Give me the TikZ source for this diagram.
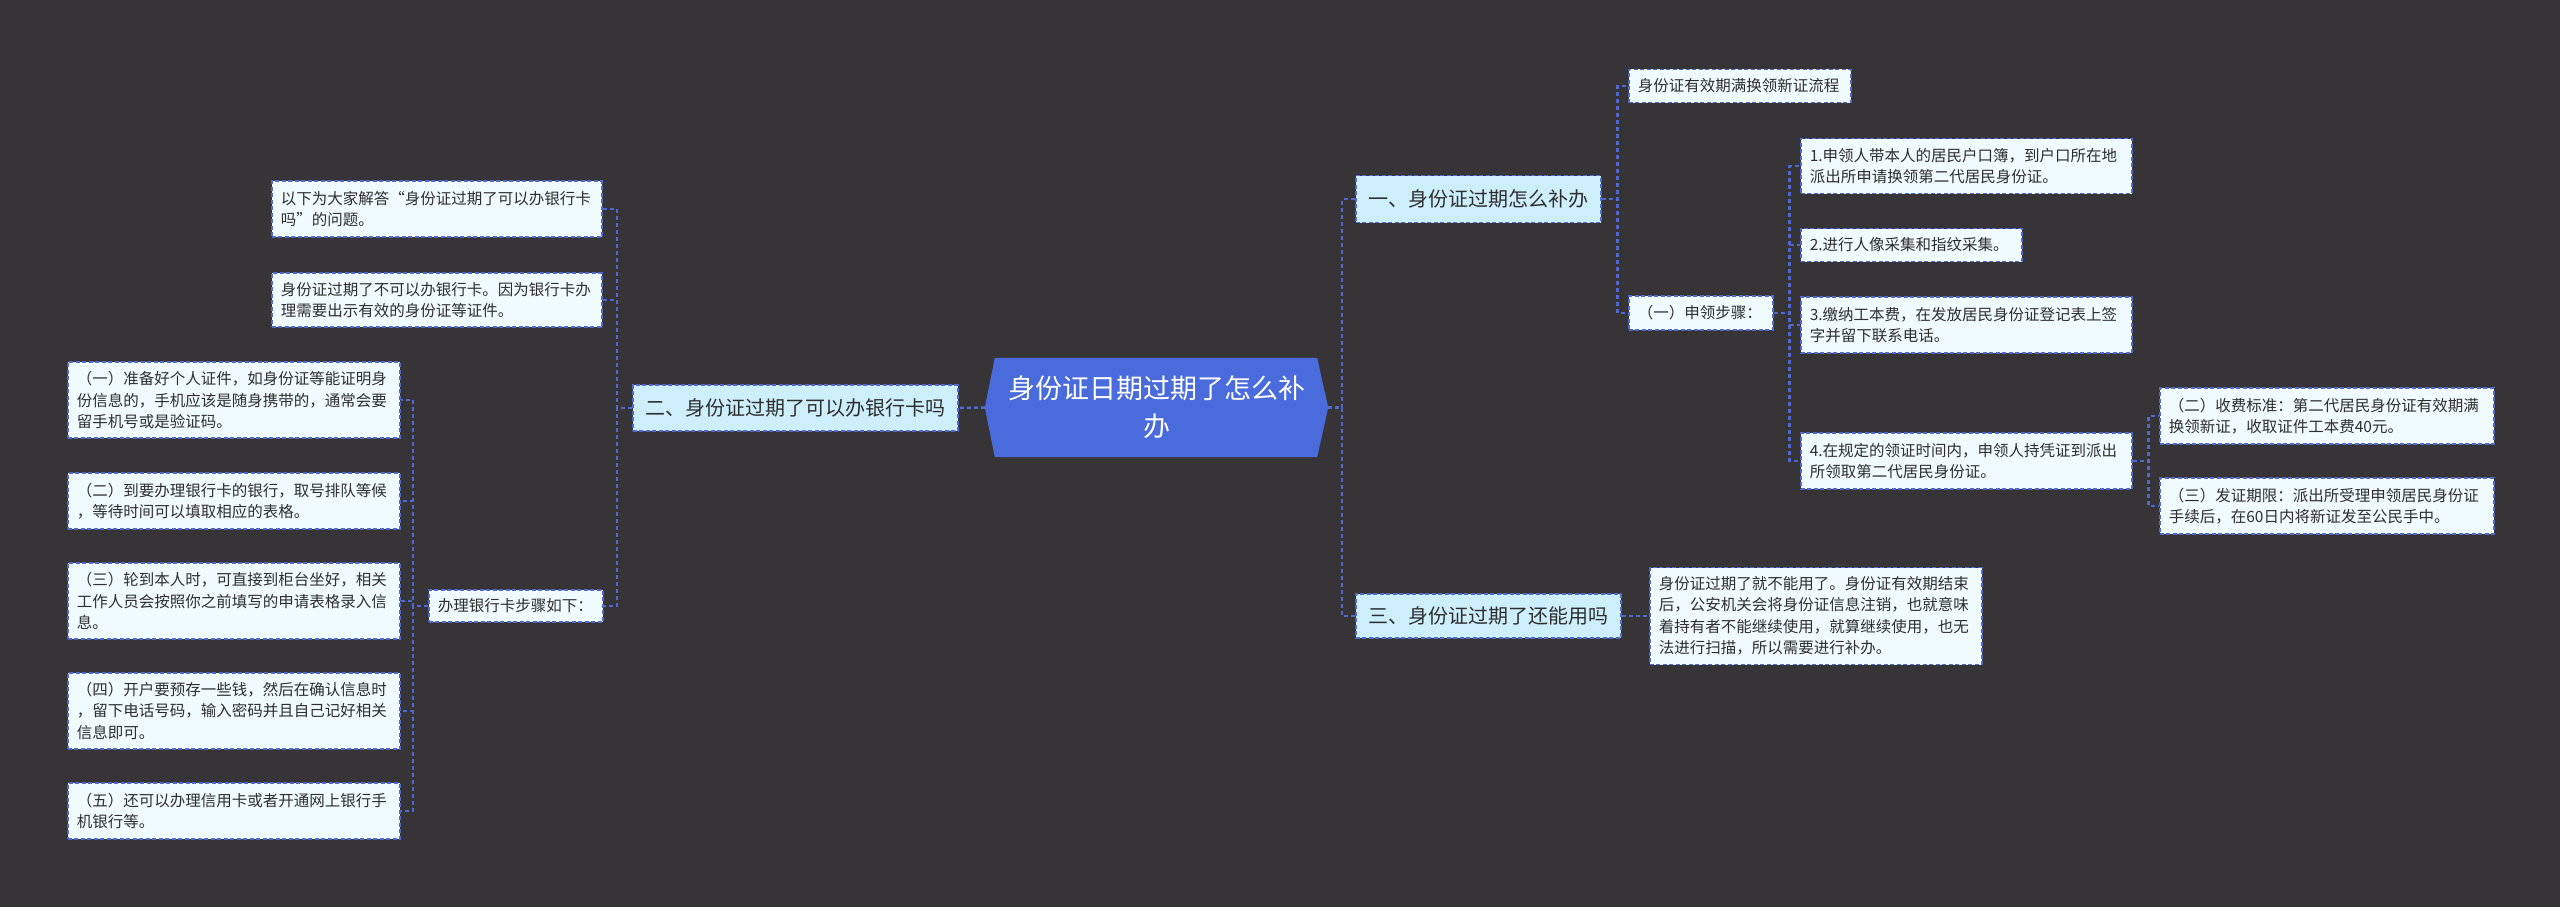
\documentclass[tikz,border=0pt]{standalone}
\usepackage{fontspec}
\newfontfamily\cjk{Noto Sans CJK SC}
\usetikzlibrary{backgrounds}
\definecolor{bgc}{HTML}{363436}
\definecolor{lineblue}{HTML}{5068D0}
\definecolor{leaffill}{HTML}{F0FBFF}
\definecolor{lvfill}{HTML}{CDEFFC}
\definecolor{rootfill}{HTML}{4A6BDB}
\definecolor{txt}{HTML}{2E2E2E}
\begin{document}
\begin{tikzpicture}[x=1pt,y=-1pt,
  conn/.style={draw=lineblue, line width=2.5pt, dash pattern=on 4pt off 3pt},
  leaf/.style={draw=lineblue, line width=1.6pt, dash pattern=on 4pt off 2.5pt,
    fill=leaffill, text=txt, font=\cjk\fontsize{15.5}{21.5}\selectfont,
    align=left, inner xsep=9pt, inner ysep=0pt, anchor=west},
  lvone/.style={leaf, fill=lvfill, font=\cjk\fontsize{20}{24}\selectfont,
    align=center, inner xsep=12pt}]
\useasboundingbox (0,0) rectangle (2560,907);
% root
\node[text=white, font=\cjk\fontsize{27}{38}\selectfont, align=center,
  minimum width=343pt, minimum height=99pt, inner sep=0pt] (root) at (1156.5,407.5)
  {身份证日期过期了怎么补\\办};
% right side
\node[leaf, text width=204pt, minimum height=33pt] (n1a) at (1628,86) {身份证有效期满换领新证流程};
\node[lvone, text width=221pt, minimum height=47pt] (A) at (1355,199) {一、身份证过期怎么补办};
\node[leaf, text width=313pt, minimum height=55pt] (s1) at (1800,166) {1.申领人带本人的居民户口簿，到户口所在地\\派出所申请换领第二代居民身份证。};
\node[leaf, text width=203pt, minimum height=33pt] (s2) at (1800,245) {2.进行人像采集和指纹采集。};
\node[leaf, text width=126pt, minimum height=34pt] (step) at (1628,313) {（一）申领步骤：};
\node[leaf, text width=313pt, minimum height=56pt] (s3) at (1800,325) {3.缴纳工本费，在发放居民身份证登记表上签\\字并留下联系电话。};
\node[leaf, text width=313pt, minimum height=56pt] (s4) at (1800,461) {4.在规定的领证时间内，申领人持凭证到派出\\所领取第二代居民身份证。};
\node[leaf, text width=316pt, minimum height=56pt] (f2) at (2159,416) {（二）收费标准：第二代居民身份证有效期满\\换领新证，收取证件工本费40元。};
\node[leaf, text width=316pt, minimum height=56pt] (f3) at (2159,506) {（三）发证期限：派出所受理申领居民身份证\\手续后，在60日内将新证发至公民手中。};
\node[lvone, text width=241pt, minimum height=44pt] (C) at (1355,616) {三、身份证过期了还能用吗};
\node[leaf, text width=314pt, minimum height=97pt] (c1) at (1649,616) {身份证过期了就不能用了。身份证有效期结束\\后，公安机关会将身份证信息注销，也就意味\\着持有者不能继续使用，就算继续使用，也无\\法进行扫描，所以需要进行补办。};
% left side
\node[lvone, text width=301pt, minimum height=46pt] (B) at (632,408) {二、身份证过期了可以办银行卡吗};
\node[leaf, text width=312pt, minimum height=56pt] (l1) at (271,209) {以下为大家解答“身份证过期了可以办银行卡\\吗”的问题。};
\node[leaf, text width=312pt, minimum height=54pt] (l2) at (271,300) {身份证过期了不可以办银行卡。因为银行卡办\\理需要出示有效的身份证等证件。};
\node[leaf, text width=156pt, minimum height=32pt] (step2) at (428,606) {办理银行卡步骤如下：};
\node[leaf, text width=314pt, minimum height=76pt] (b1) at (67,400) {（一）准备好个人证件，如身份证等能证明身\\份信息的，手机应该是随身携带的，通常会要\\留手机号或是验证码。};
\node[leaf, text width=314pt, minimum height=56pt] (b2) at (67,501) {（二）到要办理银行卡的银行，取号排队等候\\，等待时间可以填取相应的表格。};
\node[leaf, text width=314pt, minimum height=76pt] (b3) at (67,601) {（三）轮到本人时，可直接到柜台坐好，相关\\工作人员会按照你之前填写的申请表格录入信\\息。};
\node[leaf, text width=314pt, minimum height=76pt] (b4) at (67,711) {（四）开户要预存一些钱，然后在确认信息时\\，留下电话号码，输入密码并且自己记好相关\\信息即可。};
\node[leaf, text width=314pt, minimum height=56pt] (b5) at (67,811) {（五）还可以办理信用卡或者开通网上银行手\\机银行等。};
\begin{scope}[on background layer]
  \fill[bgc] (0,0) rectangle (2560,907);
  \fill[rootfill] (root.west) -- ([xshift=10pt]root.north west) -- ([xshift=-11pt]root.north east)
    -- (root.east) -- ([xshift=-11pt]root.south east) -- ([xshift=10pt]root.south west) -- cycle;
  \draw[conn] (root.east) -- ++(14,0) |- (A.west);
  \draw[conn] (root.east) -- ++(14,0) |- (C.west);
  \draw[conn] (A.east) -- ++(16,0) |- (n1a.west);
  \draw[conn] (A.east) -- ++(16,0) |- (step.west);
  \foreach \n in {s1,s2,s3,s4} \draw[conn] (step.east) -- ++(16,0) |- (\n.west);
  \draw[conn] (s4.east) -- ++(16,0) |- (f2.west);
  \draw[conn] (s4.east) -- ++(16,0) |- (f3.west);
  \draw[conn] (C.east) -- (c1.west);
  \draw[conn] (root.west) -- (B.east);
  \foreach \n in {l1,l2,step2} \draw[conn] (B.west) -- ++(-15,0) |- (\n.east);
  \foreach \n in {b1,b2,b3,b4,b5} \draw[conn] (step2.west) -- ++(-15,0) |- (\n.east);
\end{scope}
\end{tikzpicture}
\end{document}
